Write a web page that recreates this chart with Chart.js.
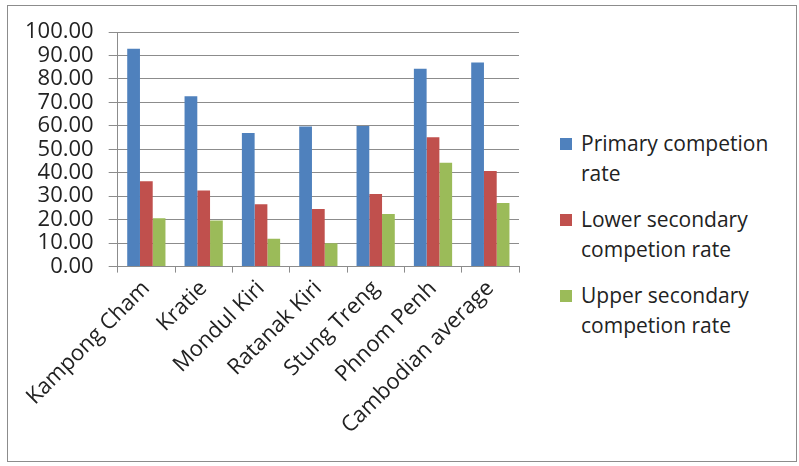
<!DOCTYPE html>
<html>
<head>
<meta charset="utf-8">
<script src="https://cdn.jsdelivr.net/npm/chart.js@4.4.0/dist/chart.umd.min.js"></script>
<style>
  body { margin: 0; background: #fff; }
  #frame { position: absolute; left: 7px; top: 5px; width: 788px; height: 455px; border: 1px solid #8c8c8c; }
  #wrap { position: absolute; left: -10px; top: 0; width: 550px; height: 466px; }
  #legend { position: absolute; left: 560px; top: 128px; font-family: "Open Sans", sans-serif; font-size: 21px; color: #222; }
  .item { position: relative; padding-left: 21px; line-height: 30px; margin-bottom: 16px; width: 225px; }
  .box { position: absolute; left: 0; top: 10px; width: 12px; height: 12px; }
</style>
</head>
<body>
<div id="frame"></div>
<div id="wrap"><canvas id="myChart"></canvas></div>
<div id="legend"></div>
<script>
// Chart values
const provinces = ['Kampong Cham', 'Kratie', 'Mondul Kiri', 'Ratanak Kiri', 'Stung Treng', 'Phnom Penh', 'Cambodian average'];
const primaryRate = [92.9, 72.6, 56.9, 59.7, 59.9, 84.3, 87.0];
const lowerSecondaryRate = [36.4, 32.4, 26.6, 24.6, 30.9, 55.1, 40.7];
const upperSecondaryRate = [20.6, 19.7, 11.9, 10.0, 22.4, 44.3, 27.1];
const seriesNames = ['Primary competion rate', 'Lower secondary competion rate', 'Upper secondary competion rate'];
const seriesColors = ['#4F81BD', '#C0504D', '#9BBB59'];

function drawChart() {
  const ctx = document.getElementById('myChart').getContext('2d');
  const values = [primaryRate, lowerSecondaryRate, upperSecondaryRate];
  const chart = new Chart(ctx, {
    type: 'bar',
    data: {
      labels: provinces,
      datasets: values.map(function(v, i) {
        return {
          label: seriesNames[i],
          data: v,
          backgroundColor: seriesColors[i],
          categoryPercentage: 0.667,
          barPercentage: 1
        };
      })
    },
    options: {
      responsive: true,
      maintainAspectRatio: false,
      animation: false,
      layout: { padding: { left: 20, top: 32, right: 21, bottom: 24 } },
      plugins: { legend: { display: false }, tooltip: { enabled: false } },
      scales: {
        x: {
          offset: true,
          grid: { display: true, drawOnChartArea: false, color: '#8c8c8c', tickLength: 6, offset: true },
          border: { color: '#8c8c8c' },
          ticks: {
            color: '#222',
            font: { family: 'Open Sans', size: 22 },
            maxRotation: 45,
            minRotation: 45,
            autoSkip: false
          }
        },
        y: {
          min: 0,
          max: 100,
          grid: { color: '#8c8c8c', tickLength: 9 },
          border: { color: '#8c8c8c' },
          ticks: {
            stepSize: 10,
            autoSkip: false,
            color: '#222',
            padding: 15,
            font: { family: 'Open Sans', size: 22 },
            callback: function(v) { return v.toFixed(2); }
          }
        }
      }
    }
  });

  // legend with wrapped text, built from the datasets
  const legend = document.getElementById('legend');
  chart.data.datasets.forEach(function(ds) {
    const item = document.createElement('div');
    item.className = 'item';
    const box = document.createElement('span');
    box.className = 'box';
    box.style.background = ds.backgroundColor;
    item.appendChild(box);
    item.appendChild(document.createTextNode(ds.label));
    legend.appendChild(item);
  });
}

window.onload = drawChart;
</script>
</body>
</html>
